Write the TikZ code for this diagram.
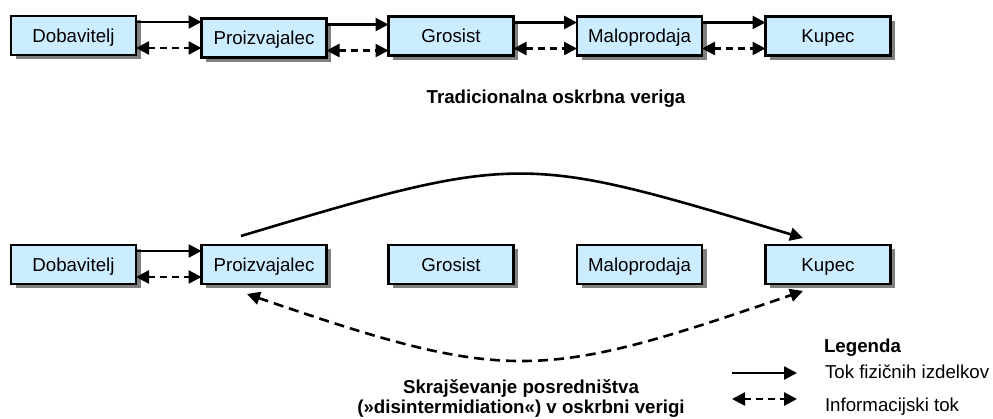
\documentclass[tikz,border=0pt]{standalone}
\usepackage{fontspec}
\setmainfont{Liberation Sans}
\usetikzlibrary{arrows.meta,shadows}

\definecolor{boxfill}{HTML}{CCECFF}
\definecolor{shadowgray}{HTML}{808080}

\begin{document}
\begin{tikzpicture}[x=1pt,y=-1pt,
  every node/.style={inner sep=0pt,outer sep=0pt},
  chainbox/.style={draw=black,line width=2.6pt,fill=boxfill,
    minimum width=125pt,minimum height=39pt,
    text height=14pt,text depth=0pt,
    font=\fontsize{18.7pt}{22pt}\selectfont,
    drop shadow={shadow xshift=4.5pt,shadow yshift=-4.5pt,opacity=1,fill=shadowgray}},
  tip/.style={-{Triangle[length=13pt,width=13pt]}},
  flow/.style={tip,line width=2.6pt},
  info/.style={{Triangle[length=13pt,width=13pt]}-{Triangle[length=13pt,width=13pt]},
    line width=2.6pt,dash pattern=on 7pt off 5pt},
  longinfo/.style={info,dash pattern=on 10pt off 6pt},
  label/.style={font=\fontsize{18.7pt}{22pt}\selectfont},
  boldlabel/.style={font=\bfseries\fontsize{18.7pt}{22pt}\selectfont}]

\useasboundingbox (0,0) rectangle (993,419);

% traditional supply chain
\node[chainbox] (dob1) at (73.5,35.5) {Dobavitelj};
\node[chainbox] (pro1) at (264,38) {Proizvajalec};
\node[chainbox] (gro1) at (451,36) {Grosist};
\node[chainbox] (mal1) at (639.5,36) {Maloprodaja};
\node[chainbox] (kup1) at (828,36) {Kupec};

\foreach \a/\b in {dob1/pro1,pro1/gro1,gro1/mal1,mal1/kup1}{
  \draw[flow] ([yshift=-6pt]\a.north east) -- ([yshift=-6pt]\a.north east -| \b.west);
  \draw[info] ([yshift=7pt]\a.south east) -- ([yshift=7pt]\a.south east -| \b.west);
}

\node[boldlabel,anchor=base] (title1) at (556,104) {Tradicionalna oskrbna veriga};

% shortened supply chain
\node[chainbox] (dob2) at (73.5,264.5) {Dobavitelj};
\node[chainbox] (pro2) at (264,264.5) {Proizvajalec};
\node[chainbox] (gro2) at (451,264.5) {Grosist};
\node[chainbox] (mal2) at (639.5,264.5) {Maloprodaja};
\node[chainbox] (kup2) at (828,264.5) {Kupec};

\draw[flow] ([yshift=-6pt]dob2.north east) -- ([yshift=-6pt]dob2.north east -| pro2.west);
\draw[info] ([yshift=7pt]dob2.south east) -- ([yshift=7pt]dob2.south east -| pro2.west);

\draw[flow] ([xshift=-23pt,yshift=9pt]pro2.north)
  .. controls +(280,-84) and +(-280,-84) .. ([xshift=-25pt,yshift=7pt]kup2.north);
\draw[longinfo] ([xshift=-17pt,yshift=-10pt]pro2.south)
  .. controls +(262,90) and +(-262,90) .. ([xshift=-25pt,yshift=-7pt]kup2.south);

\node[boldlabel,anchor=base] (title2a) at (521,393) {Skrajševanje posredništva};
\node[boldlabel,anchor=base] (title2b) at (521,413) {(»disintermidiation«) v oskrbni verigi};

% legend
\node[boldlabel,anchor=base west] (leg) at (824,353) {Legenda};
\coordinate (ls1) at (732,373);
\coordinate (le1) at (797,373);
\coordinate (ls2) at (732,399);
\coordinate (le2) at (797,399);
\draw[flow] (ls1) -- (le1);
\draw[info] (ls2) -- (le2);
\node[label,anchor=base west] (legflow) at (825,378) {Tok fizičnih izdelkov};
\node[label,anchor=base west] (leginfo) at (825,411) {Informacijski tok};

\end{tikzpicture}
\end{document}
